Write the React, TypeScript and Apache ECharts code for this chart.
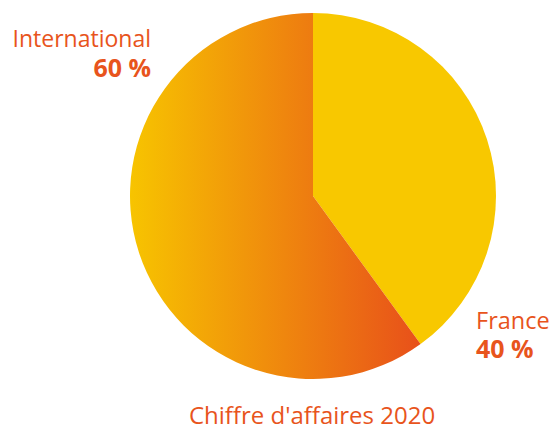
import React, { useEffect, useRef } from "react";
import * as echarts from "echarts";

const categories = ["France", "International"];
const values = [40, 60];
const chartTitle = "Chiffre d'affaires 2020";

const ORANGE = "#E8541C";

export default function App() {
  const ref = useRef<HTMLDivElement>(null);
  useEffect(() => {
    document.body.style.margin = "0";
    const chart = echarts.init(ref.current!, null, { renderer: "svg" });
    const fontFamily = "'Open Sans', 'Noto Sans', sans-serif";
    const txt = (text: string, x: number, y: number, align: string, bold: boolean, size: number) => ({
      type: "text",
      x,
      y,
      silent: true,
      style: {
        text,
        fill: ORANGE,
        fontSize: size,
        lineHeight: size - 4,
        fontFamily,
        fontWeight: bold ? "bold" : "normal",
        align,
        verticalAlign: "middle",
      },
    });
    chart.setOption({
      animation: false,
      series: [
        {
          type: "pie",
          center: [313, 196],
          radius: [0, 183],
          startAngle: 90,
          clockwise: true,
          label: { show: false },
          labelLine: { show: false },
          silent: true,
          data: [
            { name: categories[0], value: values[0], itemStyle: { color: "#F8C800" } },
            {
              name: categories[1],
              value: values[1],
              itemStyle: {
                color: new echarts.graphic.LinearGradient(0, 0, 1, 0, [
                  { offset: 0, color: "#F7C400" },
                  { offset: 1, color: "#E8501A" },
                ]),
              },
            },
          ],
        },
      ],
      graphic: [
        txt(categories[1], 151, 37.5, "right", false, 23),
        txt(values[1] + " %", 151, 66.5, "right", true, 25),
        txt(categories[0], 476, 319.5, "left", false, 23.5),
        txt(values[0] + " %", 476, 347.5, "left", true, 25),
        txt(chartTitle, 312, 414.5, "center", false, 24),
      ],
    });
    return () => chart.dispose();
  }, []);
  return <div ref={ref} style={{ width: 555, height: 427 }} />;
}
